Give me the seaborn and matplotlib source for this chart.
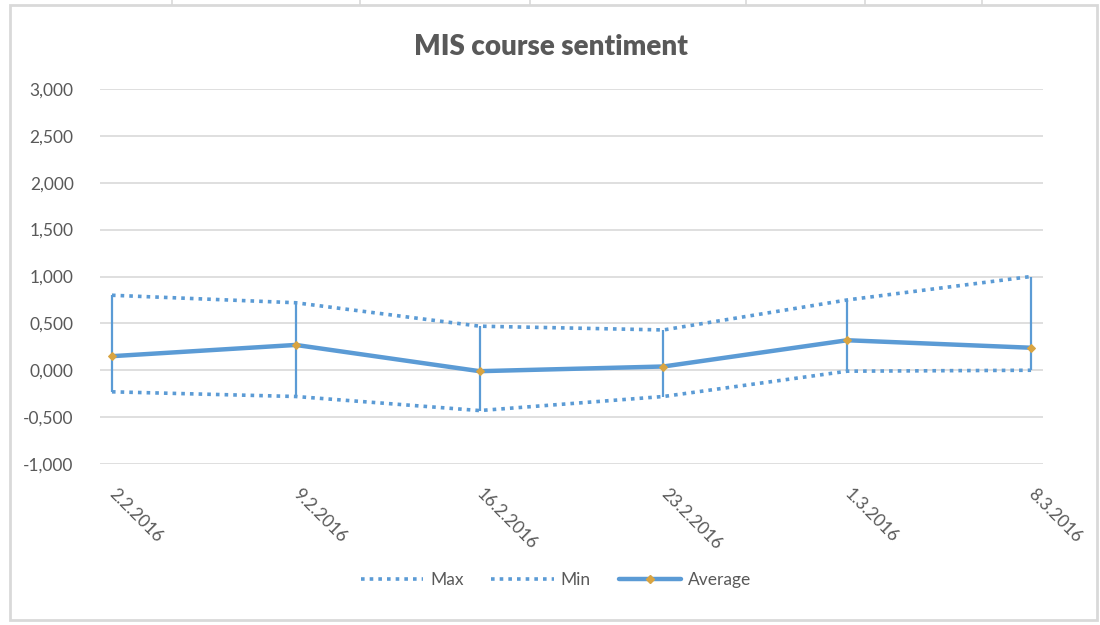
import matplotlib
matplotlib.use("Agg")
import matplotlib.pyplot as plt
import seaborn as sns
import pandas as pd
import numpy as np
from matplotlib.ticker import FuncFormatter, FixedLocator
from matplotlib.lines import Line2D
from matplotlib.patches import Rectangle

dates = ["2.2.2016", "9.2.2016", "16.2.2016", "23.2.2016", "1.3.2016", "8.3.2016"]
max_vals = [0.80, 0.72, 0.47, 0.43, 0.75, 1.00]
min_vals = [-0.23, -0.28, -0.43, -0.28, -0.01, 0.00]
avg_vals = [0.15, 0.27, -0.01, 0.04, 0.32, 0.24]
y_ticks = [-1.0, -0.5, 0.0, 0.5, 1.0, 1.5, 2.0, 2.5, 3.0]

sns.set_theme(style="white")
plt.rcParams['font.family'] = ['Lato', 'DejaVu Sans']

BLUE = "#5B9BD5"
GOLD = "#D9A441"
TXT = "#595959"

df = pd.DataFrame({"idx": np.arange(len(dates)), "date": dates,
                   "Max": max_vals, "Min": min_vals, "Average": avg_vals})

fig = plt.figure(figsize=(11, 6.25), dpi=100)
ax = fig.add_axes([100/1100, 1-464/625, 943/1100, 375/625])

# high-low lines
ax.vlines(df["idx"], df["Min"], df["Max"], color=BLUE, lw=1.6, zorder=3)

sns.lineplot(data=df, x="idx", y="Max", ax=ax, color=BLUE, lw=2.6,
             linestyle=(0, (1, 1.4)), zorder=2)
sns.lineplot(data=df, x="idx", y="Min", ax=ax, color=BLUE, lw=2.6,
             linestyle=(0, (1, 1.4)), zorder=2)
sns.lineplot(data=df, x="idx", y="Average", ax=ax, color=BLUE, lw=3.2,
             marker="D", markersize=4, markerfacecolor=GOLD,
             markeredgecolor=GOLD, zorder=4)

ax.set_xlim(-0.065, len(dates) - 1 + 0.065)
ax.set_ylim(-1.0, 3.0)
ax.yaxis.set_major_locator(FixedLocator(y_ticks))
ax.yaxis.set_major_formatter(FuncFormatter(lambda v, p: f"{v:.3f}".replace(".", ",")))
ax.grid(axis="y", color="#D9D9D9", lw=1.2)
ax.grid(axis="x", visible=False)
for s in ax.spines.values():
    s.set_visible(False)
ax.set_xlabel("")
ax.set_ylabel("")
ax.tick_params(axis="y", length=0, pad=19, labelsize=12.5, labelcolor=TXT)
ax.set_xticks(df["idx"])
ax.set_xticklabels(dates, rotation=-45, ha="left", va="center",
                   rotation_mode="anchor", fontsize=12.5, color=TXT)
ax.tick_params(axis="x", length=0, pad=20)

fig.text(0.501, 1-47/625, "MIS course sentiment", ha="center", va="center",
         fontsize=20, fontweight="heavy", color=TXT)

handles = [
    Line2D([], [], color=BLUE, lw=2.6, linestyle=(0, (1, 1.4))),
    Line2D([], [], color=BLUE, lw=2.6, linestyle=(0, (1, 1.4))),
    Line2D([], [], color=BLUE, lw=3.2, marker="D", markersize=4,
           markerfacecolor=GOLD, markeredgecolor=GOLD),
]
fig.legend(handles, ["Max", "Min", "Average"], loc="center",
           bbox_to_anchor=(556/1100, 1-580/625), ncol=3, frameon=False,
           fontsize=12.5, labelcolor=TXT, handlelength=3.6, columnspacing=1.6,
           handletextpad=0.4)

# chart frame and sheet gridlines
fig.patches.append(Rectangle((10/1100, 1-620/625), 1087/1100, 615/625,
                             transform=fig.transFigure, fill=False,
                             edgecolor="#D9D9D9", lw=2))
for xp in [172, 360, 530, 746, 865, 982]:
    fig.lines.append(Line2D([xp/1100, xp/1100], [1, 1-5/625],
                            transform=fig.transFigure, color="#D9D9D9", lw=1.2))

fig.savefig("out.png", dpi=100, facecolor="white")
